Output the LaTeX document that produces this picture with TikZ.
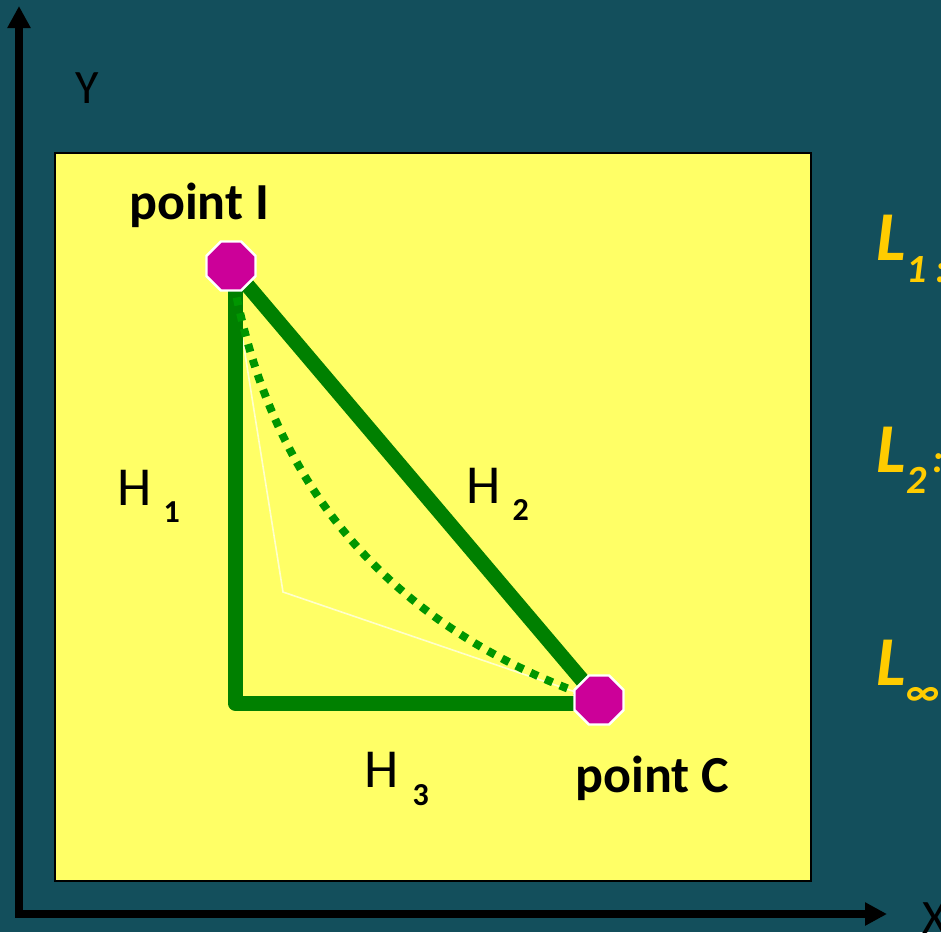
\documentclass[tikz,border=0pt]{standalone}
\usepackage{fontspec}
\setmainfont{Carlito}
\usetikzlibrary{shapes.geometric, arrows.meta, calc}

\definecolor{bgteal}{RGB}{19,79,92}
\definecolor{padyellow}{RGB}{255,255,102}
\definecolor{ptmagenta}{RGB}{204,0,153}
\definecolor{pathgreen}{RGB}{0,128,0}
\definecolor{dotgreen}{RGB}{0,150,0}
\definecolor{lgold}{RGB}{255,204,0}
\definecolor{ctrlline}{RGB}{255,255,204}

\newcommand{\subfnt}{\fontsize{16}{16}\selectfont\bfseries}
\newcommand{\lsubfnt}{\fontsize{20}{20}\selectfont\itshape}

\pgfdeclarelayer{back}
\pgfdeclarelayer{edges}
\pgfsetlayers{back,edges,main}

\begin{document}
\begin{tikzpicture}[x=0.5pt, y=-0.5pt,
    point/.style={regular polygon, regular polygon sides=8, fill=ptmagenta,
        draw=white, line width=1.2pt, minimum size=26.5pt, inner sep=0pt},
    ptlabel/.style={font=\fontsize{26}{30}\selectfont\bfseries, anchor=base, inner sep=0pt},
    hlabel/.style={font=\fontsize{27.5}{30}\selectfont, anchor=base west, inner sep=0pt},
    llabel/.style={font=\fontsize{35}{38}\selectfont\bfseries\itshape, text=lgold,
        anchor=base west, inner sep=0pt},
    axisline/.style={line width=4pt, line join=miter,
        {Triangle[length=11pt, width=11pt]}-{Triangle[length=11pt, width=11pt]}},
    route/.style={pathgreen, line width=7.5pt, line join=round},
]
    \useasboundingbox (0,0) rectangle (941,932);
    % Backdrop and drawing area
    \begin{pgfonlayer}{back}
        \fill[bgteal] (0,0) rectangle (941,932);
        \draw[fill=padyellow, line width=0.8pt] (55,153) rectangle (811,881);
        \coordinate (origin) at (19,914);
        \coordinate (ytip) at (19,6);
        \coordinate (xtip) at (887,914);
        \draw[axisline] (ytip) -- (origin) -- (xtip);
    \end{pgfonlayer}
    % Axis names
    \node[font=\fontsize{24}{28}\selectfont] (ylab) at (87,88) {Y};
    \node[font=\fontsize{24}{28}\selectfont, anchor=base west, inner sep=0pt] (xlab) at (922,933) {X};
    % The two points
    \node[point] (I) at (231,266) {};
    \node[point] (C) at (599,700) {};
    \node[ptlabel] (Ilab) at (199,219) {point I};
    \node[ptlabel] (Clab) at (652,792) {point C};
    % Paths between the points
    \coordinate (corner) at (235,703);
    \coordinate (ctrl) at (283,592);
    \begin{pgfonlayer}{edges}
        \draw[ctrlline, line width=0.8pt] (I.center) -- (ctrl) -- (C.center);
        \draw[route] (corner |- I.center) -- (corner) -- (C.center |- corner);
        \draw[route] (I.center) -- (C.center);
        \draw[dotgreen, line width=4pt, dash pattern=on 4pt off 4pt]
            (I.center) .. controls ($(I.center)!2/3!(ctrl)$) and ($(C.center)!2/3!(ctrl)$) .. (C.center);
    \end{pgfonlayer}
    % Path names
    \node[hlabel] (h1) at (117,505) {H\hspace{6pt}\raisebox{-8.5pt}{\subfnt 1}};
    \node[hlabel] (h2) at (466,503) {H\hspace{6pt}\raisebox{-8.5pt}{\subfnt 2}};
    \node[hlabel] (h3) at (364,787) {H\hspace{7pt}\raisebox{-9pt}{\subfnt 3}};
    % Metric names (cut by the right edge)
    \node[llabel] (l1) at (876,260) {L\raisebox{-11pt}{\lsubfnt 1 :}};
    \node[llabel] (l2) at (876,472) {L\raisebox{-10.5pt}{\lsubfnt 2}{\lsubfnt\,:}};
    \node[llabel] (linf) at (876,685) {L\raisebox{-10pt}{\lsubfnt ∞}};
\end{tikzpicture}
\end{document}
